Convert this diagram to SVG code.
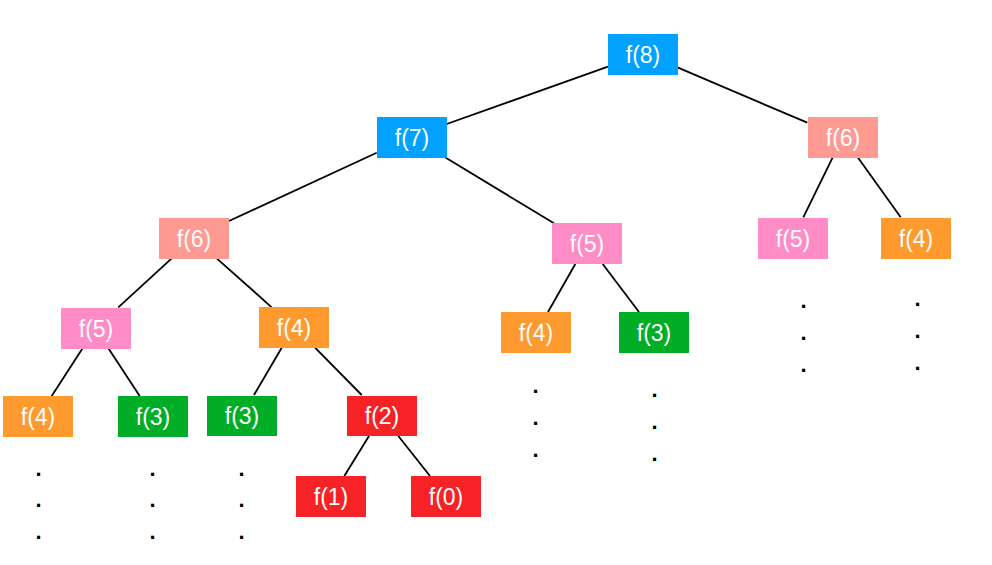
<svg xmlns="http://www.w3.org/2000/svg" width="992" height="565" viewBox="0 0 992 565">
<style>
.n text{font-family:"Liberation Sans",Arial,sans-serif;font-size:23px;fill:#fff;text-anchor:middle;dominant-baseline:central}
.e line{stroke:#000;stroke-width:1.8}
.dots text{font-family:"Liberation Sans",Arial,sans-serif;font-size:22px;font-weight:bold;fill:#000;text-anchor:middle}
.blue{fill:#00a1ff}.salmon{fill:#ff9a92}.pink{fill:#ff8bc7}.orange{fill:#ff9a2e}.green{fill:#00ad27}.red{fill:#f72225}
</style>
<rect width="992" height="565" fill="#fff"/>
<g id="edges" class="e">
<line x1="608" y1="66.7" x2="446.7" y2="124"/>
<line x1="678" y1="67.7" x2="807.3" y2="122.7"/>
<line x1="376.7" y1="152.7" x2="229" y2="221"/>
<line x1="445" y1="157.3" x2="554" y2="223.3"/>
<line x1="832.7" y1="157.3" x2="803.3" y2="217.3"/>
<line x1="857.7" y1="157.3" x2="900.7" y2="217.3"/>
<line x1="171.7" y1="258.3" x2="118.3" y2="307.3"/>
<line x1="216.7" y1="258.3" x2="271.7" y2="307.3"/>
<line x1="82.3" y1="348.7" x2="51.7" y2="396"/>
<line x1="108.7" y1="348.7" x2="139.7" y2="396"/>
<line x1="281.7" y1="347.7" x2="254" y2="395"/>
<line x1="315" y1="347.7" x2="361.7" y2="395"/>
<line x1="369" y1="436" x2="344.3" y2="476"/>
<line x1="398.3" y1="436" x2="430" y2="476"/>
<line x1="575.3" y1="264" x2="548" y2="312"/>
<line x1="602.7" y1="264" x2="639" y2="312"/>
</g>
<g id="f8" class="n"><rect class="blue" x="608" y="34" width="70" height="41"/><text x="643" y="54.5">f(8)</text></g>
<g id="f7" class="n"><rect class="blue" x="377" y="117" width="70" height="41"/><text x="412" y="137.5">f(7)</text></g>
<g id="f6r" class="n"><rect class="salmon" x="808" y="117" width="70" height="41"/><text x="843" y="137.5">f(6)</text></g>
<g id="f6l" class="n"><rect class="salmon" x="159" y="218" width="70" height="41"/><text x="194" y="238.5">f(6)</text></g>
<g id="f5m" class="n"><rect class="pink" x="552" y="223" width="70" height="41"/><text x="587" y="243.5">f(5)</text></g>
<g id="f5r" class="n"><rect class="pink" x="758" y="218" width="70" height="41"/><text x="793" y="238.5">f(5)</text></g>
<g id="f4r" class="n"><rect class="orange" x="881" y="218" width="70" height="41"/><text x="916" y="238.5">f(4)</text></g>
<g id="f5l" class="n"><rect class="pink" x="61" y="308" width="70" height="41"/><text x="96" y="328.5">f(5)</text></g>
<g id="f4a" class="n"><rect class="orange" x="259" y="307" width="70" height="41"/><text x="294" y="327.5">f(4)</text></g>
<g id="f4m" class="n"><rect class="orange" x="501" y="312" width="70" height="41"/><text x="536" y="332.5">f(4)</text></g>
<g id="f3m" class="n"><rect class="green" x="619" y="312" width="70" height="41"/><text x="654" y="332.5">f(3)</text></g>
<g id="f4l" class="n"><rect class="orange" x="3" y="396" width="70" height="41"/><text x="38" y="416.5">f(4)</text></g>
<g id="f3a" class="n"><rect class="green" x="118" y="396" width="70" height="41"/><text x="153" y="416.5">f(3)</text></g>
<g id="f3b" class="n"><rect class="green" x="207" y="396" width="70" height="40"/><text x="242" y="416">f(3)</text></g>
<g id="f2" class="n"><rect class="red" x="347" y="396" width="70" height="40"/><text x="382" y="416">f(2)</text></g>
<g id="f1" class="n"><rect class="red" x="296" y="476" width="70" height="41"/><text x="331" y="496.5">f(1)</text></g>
<g id="f0" class="n"><rect class="red" x="411" y="476" width="70" height="41"/><text x="446" y="496.5">f(0)</text></g>
<g id="dots" class="dots">
<text x="38.5" y="476">.</text><text x="38.5" y="507">.</text><text x="38.5" y="539">.</text>
<text x="152.5" y="476">.</text><text x="152.5" y="507">.</text><text x="152.5" y="539">.</text>
<text x="241.5" y="476">.</text><text x="241.5" y="507">.</text><text x="241.5" y="539">.</text>
<text x="535.5" y="393">.</text><text x="535.5" y="425">.</text><text x="535.5" y="457">.</text>
<text x="654.5" y="397">.</text><text x="654.5" y="429">.</text><text x="654.5" y="461">.</text>
<text x="803.5" y="308">.</text><text x="803.5" y="340">.</text><text x="803.5" y="372">.</text>
<text x="917.5" y="306">.</text><text x="917.5" y="338">.</text><text x="917.5" y="370">.</text>
</g>
</svg>
